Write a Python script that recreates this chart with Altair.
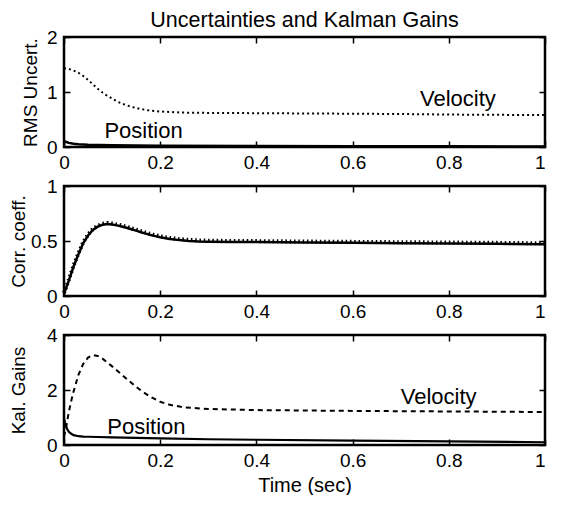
import altair as alt
import pandas as pd

FONT = "Liberation Sans"
W, H = 481, 110
TS = 6

X_TICKS = [0, 0.2, 0.4, 0.6, 0.8, 1]

# Panel 1: RMS uncertainties
RMS_VEL_T = [0, .01, .02, .03, .04, .05, .06, .07, .08, .09, .10, .11, .12, .13, .14,
             .15, .16, .18, .20, .25, .30, .40, .50, .60, .70, .80, .90, 1.0]
RMS_VEL_V = [1.43, 1.42, 1.39, 1.35, 1.29, 1.22, 1.14, 1.06, 0.99, 0.93, 0.88, 0.83, 0.79,
             0.76, 0.73, 0.71, 0.69, 0.66, 0.645, 0.625, 0.62, 0.615, 0.61, 0.605, 0.60,
             0.59, 0.585, 0.58]
RMS_POS_T = [0, .005, .01, .02, .03, .05, .1, .2, .4, .6, .8, 1.0]
RMS_POS_V = [0.11, 0.09, 0.075, 0.06, 0.05, 0.04, 0.03, 0.022, 0.017, 0.014, 0.012, 0.01]
RMS_TICKS = [0, 1, 2]
RMS_LABELS = ["Velocity", "Position"]
RMS_LABEL_T = [0.74, 0.084]
RMS_LABEL_V = [0.74, 0.155]

# Panel 2: correlation coefficient
CORR_T = [0, .01, .02, .03, .04, .05, .06, .07, .08, .09, .10, .11, .12, .13, .14, .15,
          .16, .17, .18, .19, .20, .22, .24, .26, .28, .30, .35, .40, .50, .60, .70, .80,
          .90, 1.0]
CORR_V = [0.02, 0.14, 0.27, 0.38, 0.48, 0.55, 0.60, 0.63, 0.648, 0.655, 0.65, 0.642, 0.632,
          0.62, 0.607, 0.594, 0.58, 0.567, 0.555, 0.544, 0.534, 0.519, 0.508, 0.501, 0.496,
          0.494, 0.491, 0.49, 0.486, 0.483, 0.48, 0.477, 0.474, 0.47]
CORR_TICKS = [0, 0.5, 1]

# Panel 3: Kalman gains
GAIN_VEL_T = [0, .005, .01, .015, .02, .03, .04, .05, .06, .07, .08, .09, .10, .12, .14,
              .16, .18, .20, .22, .25, .30, .40, .60, .80, 1.0]
GAIN_VEL_V = [0.3, 0.7, 1.2, 1.6, 1.95, 2.55, 2.95, 3.18, 3.27, 3.24, 3.14, 3.0, 2.86, 2.56,
              2.26, 1.98, 1.75, 1.57, 1.46, 1.37, 1.31, 1.27, 1.24, 1.22, 1.2]
GAIN_POS_T = [0, .003, .006, .01, .015, .02, .03, .04, .05, .07, .1, .2, .3, .4, .6, .8, 1.0]
GAIN_POS_V = [0.95, 0.75, 0.6, 0.48, 0.41, 0.36, 0.32, 0.305, 0.3, 0.29, 0.28, 0.24, 0.21,
              0.19, 0.16, 0.13, 0.1]
GAIN_TICKS = [0, 2, 4]
GAIN_LABELS = ["Velocity", "Position"]
GAIN_LABEL_T = [0.70, 0.09]
GAIN_LABEL_V = [1.49, 0.39]


def df(t, v):
    return pd.DataFrame({"t": t, "v": v})


def common_axis(orient, values, labels):
    return dict(orient=orient, values=values, format="~g", labels=labels, domain=False,
                grid=False, ticks=True, tickSize=TS, tickWidth=1.5, tickColor="black",
                offset=-TS, labelFont=FONT, labelFontSize=19, labelColor="black",
                labelFlush=False, minExtent=0)


def panel(lines, labels, yticks, ydomain, ytitle, title_x, xtitle=None, title=None):
    xs = alt.Scale(domain=[0, 1], nice=False, zero=False)
    ys = alt.Scale(domain=ydomain, nice=False, zero=False)
    x_bottom = alt.Axis(
        labelPadding=6,
        labelAlign={"condition": {"test": "datum.value == 1", "value": "right"}, "value": "center"},
        titleFont=FONT, titleFontSize=20, titleFontWeight="normal", titleColor="black",
        titlePadding=5,
        **common_axis("bottom", X_TICKS, True))
    y_left = alt.Axis(
        labelPadding=7, title=ytitle, titleFont=FONT, titleFontSize=19,
        titleFontWeight="normal", titleColor="black", titleAngle=270,
        titleBaseline="alphabetic", titleAlign="center", titleX=title_x, titleY=H / 2,
        **common_axis("left", yticks, True))
    x_top = alt.Axis(**common_axis("top", X_TICKS, False))
    y_right = alt.Axis(**common_axis("right", yticks, False))

    layers = []
    first = True
    for data, props in lines:
        if first:
            xe = alt.X("t:Q", scale=xs, axis=x_bottom, title=xtitle)
            ye = alt.Y("v:Q", scale=ys, axis=y_left)
            first = False
        else:
            xe = alt.X("t:Q", scale=xs, axis=None)
            ye = alt.Y("v:Q", scale=ys, axis=None)
        layers.append(alt.Chart(data).mark_line(color="black", **props).encode(x=xe, y=ye))
    if labels is not None:
        ldf = pd.DataFrame({"label": labels[0], "t": labels[1], "v": labels[2]})
        layers.append(
            alt.Chart(ldf).mark_text(font=FONT, fontSize=22, align="left",
                                     baseline="alphabetic", color="black")
            .encode(x=alt.X("t:Q", scale=xs, axis=None), y=alt.Y("v:Q", scale=ys, axis=None),
                    text="label:N"))
    # invisible layer carrying the top and right inward tick axes
    layers.append(
        alt.Chart(lines[0][0]).mark_line(opacity=0)
        .encode(x=alt.X("t:Q", scale=xs, axis=x_top, title=None),
                y=alt.Y("v:Q", scale=ys, axis=y_right, title=None)))
    props = dict(width=W, height=H)
    if title is not None:
        props["title"] = alt.TitleParams(title, font=FONT, fontSize=21.5, fontWeight="normal",
                                         color="black", anchor="middle", frame="group",
                                         baseline="alphabetic", offset=-20)
    return alt.layer(*layers).properties(**props)


p1 = panel(
    [(df(RMS_POS_T, RMS_POS_V), dict(strokeWidth=2.5)),
     (df(RMS_VEL_T, RMS_VEL_V), dict(strokeWidth=2, strokeDash=[2, 3]))],
    (RMS_LABELS, RMS_LABEL_T, RMS_LABEL_V), RMS_TICKS, [0, 2], "RMS Uncert.", -34,
    xtitle=None, title="Uncertainties and Kalman Gains")

p2 = panel(
    [(df(CORR_T, CORR_V), dict(strokeWidth=2.5)),
     (df(CORR_T, CORR_V), dict(strokeWidth=4, strokeDash=[1.5, 2.8], yOffset=-1,
                               strokeCap="butt"))],
    None, CORR_TICKS, [0, 1], "Corr. coeff.", -46, xtitle=None)

p3 = panel(
    [(df(GAIN_POS_T, GAIN_POS_V), dict(strokeWidth=2.2)),
     (df(GAIN_VEL_T, GAIN_VEL_V), dict(strokeWidth=2, strokeDash=[5, 4]))],
    (GAIN_LABELS, GAIN_LABEL_T, GAIN_LABEL_V), GAIN_TICKS, [0, 4], "Kal. Gains", -46,
    xtitle="Time (sec)")

chart = alt.vconcat(p1, p2, p3, spacing=1).properties(
    padding={"left": -1, "top": 0, "right": -1, "bottom": -2}
).configure(font=FONT).configure_view(stroke="black", strokeWidth=2.5)

chart.save("out.html", embed_options={"renderer": "svg", "actions": False})
